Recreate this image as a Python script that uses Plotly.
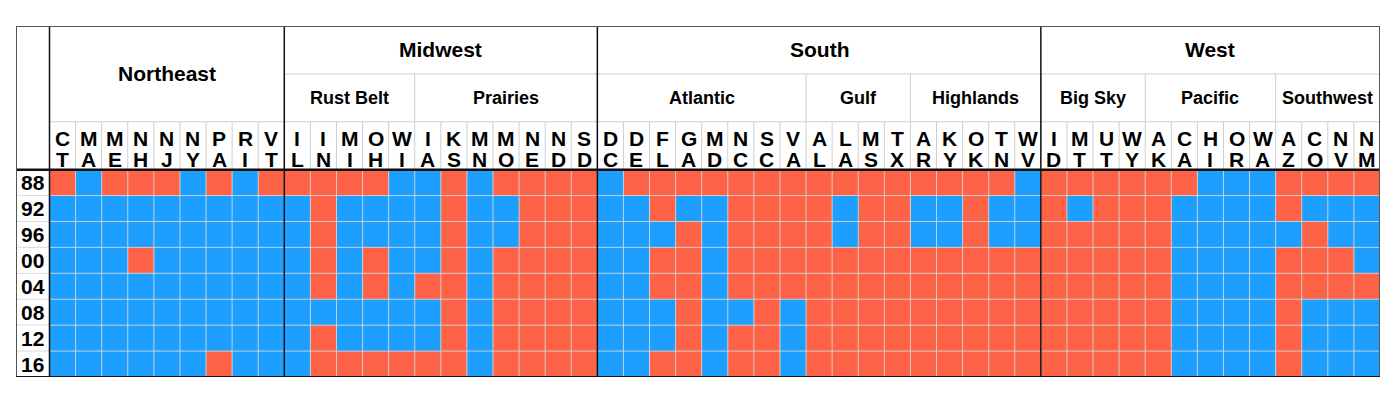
import plotly.graph_objects as go

# ---------------- data ----------------
years = ["88", "92", "96", "00", "04", "08", "12", "16"]

regions = ["Northeast", "Midwest", "South", "West"]
region_sizes = [9, 12, 17, 13]

subregions = ["", "Rust Belt", "Prairies", "Atlantic", "Gulf", "Highlands",
              "Big Sky", "Pacific", "Southwest"]
subregion_sizes = [9, 5, 7, 8, 4, 5, 4, 5, 4]

states = ["CT", "MA", "ME", "NH", "NJ", "NY", "PA", "RI", "VT",
          "IL", "IN", "MI", "OH", "WI",
          "IA", "KS", "MN", "MO", "NE", "ND", "SD",
          "DC", "DE", "FL", "GA", "MD", "NC", "SC", "VA",
          "AL", "LA", "MS", "TX",
          "AR", "KY", "OK", "TN", "WV",
          "ID", "MT", "UT", "WY",
          "AK", "CA", "HI", "OR", "WA",
          "AZ", "CO", "NV", "NM"]

# winner per state (D = blue, R = red), in state order
win_88 = "RDRRRDRDR RRRRD DRDRRRR DRRRRRRR RRRR RRRRD RRRR RRDDD RRRR"
win_92 = "DDDDDDDDD DRDDD DRDDRRR DDRDDRRR RDRR DDRDD RDRR RDDDD RDDD"
win_96 = "DDDDDDDDD DRDDD DRDDRRR DDDRDRRR RDRR DDRDD RRRR RDDDD DRDD"
win_00 = "DDDRDDDDD DRDRD DRDRRRR DDRRDRRR RRRR RRRRR RRRR RDDDD RRRD"
win_04 = "DDDDDDDDD DRDRD RRDRRRR DDRRDRRR RRRR RRRRR RRRR RDDDD RRRR"
win_08 = "DDDDDDDDD DDDDD DRDRRRR DDDRDDRD RRRR RRRRR RRRR RDDDD RDDD"
win_12 = "DDDDDDDDD DRDDD DRDRRRR DDDRDRRD RRRR RRRRR RRRR RDDDD RDDD"
win_16 = "DDDDDDRDD DRRRR RRDRRRR DDRRDRRD RRRR RRRRR RRRR RDDDD RDDD"
winners = [win_88, win_92, win_96, win_00, win_04, win_08, win_12, win_16]

# ---------------- styling ----------------
RED = "#FF6347"
BLUE = "#1C9FFF"
GRID = "rgba(215,215,215,0.9)"
HEAD_GRID = "#CFCFCF"
DARK = "#111111"
FONT = "Liberation Sans, Arial, Helvetica, sans-serif"

n = len(states)
rows = len(years)
label_w = 1.284          # width of year-label column, in cell units
hrow = 1.847             # height of each header row, in cell units
x_left = -0.5 - label_w
x_right = n - 0.5
y_bot = -rows + 0.5
y0 = 0.5
y1 = y0 + hrow
y2 = y1 + hrow
y3 = y2 + hrow

z = []
for w in winners:
    letters = w.replace(" ", "")
    z.append([1 if c == "R" else 0 for c in letters])

fig = go.Figure()
fig.add_trace(go.Heatmap(
    z=z,
    x=list(range(n)),
    y=[-i for i in range(rows)],
    zmin=0, zmax=1,
    colorscale=[[0, BLUE], [0.5, BLUE], [0.5, RED], [1, RED]],
    showscale=False,
    hoverinfo="skip",
))

shapes = []
ann = []

def line(xa, ya, xb, yb, color, width):
    shapes.append(dict(type="line", x0=xa, y0=ya, x1=xb, y1=yb,
                       line=dict(color=color, width=width), layer="above"))

# data grid
for i in range(n - 1):
    line(i + 0.5, y_bot, i + 0.5, y0, GRID, 1)
    line(i + 0.5, y0, i + 0.5, y1, HEAD_GRID, 1)
for r in range(rows - 1):
    line(x_left, -r - 0.5, x_right, -r - 0.5, GRID, 1)

# header horizontal lines
line(-0.5, y1, x_right, y1, HEAD_GRID, 1)
line(-0.5 + region_sizes[0], y2, x_right, y2, HEAD_GRID, 1)

# subregion dividers
pos = -0.5
for k, s in enumerate(subregion_sizes[:-1]):
    pos += s
    line(pos, y1, pos, y2, HEAD_GRID, 1)

# region dividers
pos = -0.5
for s in region_sizes[:-1]:
    pos += s
    line(pos, y_bot, pos, y3, DARK, 1.5)

# year column divider and header bottom
line(-0.5, y_bot, -0.5, y3, DARK, 1.5)
line(x_left, y0, x_right, y0, DARK, 2.5)

# outer border
shapes.append(dict(type="rect", x0=x_left, y0=y_bot, x1=x_right, y1=y3,
                   line=dict(color="#555555", width=2), layer="above"))
line(x_left, y_bot, x_right, y_bot, DARK, 2)

# state labels (two stacked letters)
for i, st in enumerate(states):
    ann.append(dict(x=i, y=1.70, text=st[0], showarrow=False,
                    font=dict(size=21, color="black", family=FONT),
                    xanchor="center", yanchor="middle"))
    ann.append(dict(x=i, y=0.91, text=st[1], showarrow=False,
                    font=dict(size=21, color="black", family=FONT),
                    xanchor="center", yanchor="middle"))

# subregion labels
pos = -0.5
for name, s in zip(subregions, subregion_sizes):
    if name:
        ann.append(dict(x=pos + s / 2, y=(y1 + y2) / 2, text="<b>%s</b>" % name,
                        showarrow=False, font=dict(size=18, color="black", family=FONT),
                        xanchor="center", yanchor="middle"))
    pos += s

# region labels
pos = -0.5
for k, (name, s) in enumerate(zip(regions, region_sizes)):
    yy = (y1 + y3) / 2 if k == 0 else (y2 + y3) / 2
    ann.append(dict(x=pos + s / 2, y=yy, text="<b>%s</b>" % name,
                    showarrow=False, font=dict(size=21, color="black", family=FONT),
                    xanchor="center", yanchor="middle"))
    pos += s

# year labels
for r, yr in enumerate(years):
    ann.append(dict(x=-0.5 - label_w / 2, y=-r, text="<b>%s</b>" % yr,
                    showarrow=False, font=dict(size=21, color="black", family=FONT),
                    xanchor="center", yanchor="middle"))

# make state letters bold
for a in ann:
    if not a["text"].startswith("<b>"):
        a["text"] = "<b>%s</b>" % a["text"]

fig.update_layout(
    width=1400, height=396,
    margin=dict(l=16, r=20, t=26, b=19, pad=0),
    paper_bgcolor="white", plot_bgcolor="white",
    xaxis=dict(range=[x_left, x_right], visible=False, fixedrange=True),
    yaxis=dict(range=[y_bot, y3], visible=False, fixedrange=True),
    shapes=shapes, annotations=ann, showlegend=False,
)

fig.write_html("out.html")
